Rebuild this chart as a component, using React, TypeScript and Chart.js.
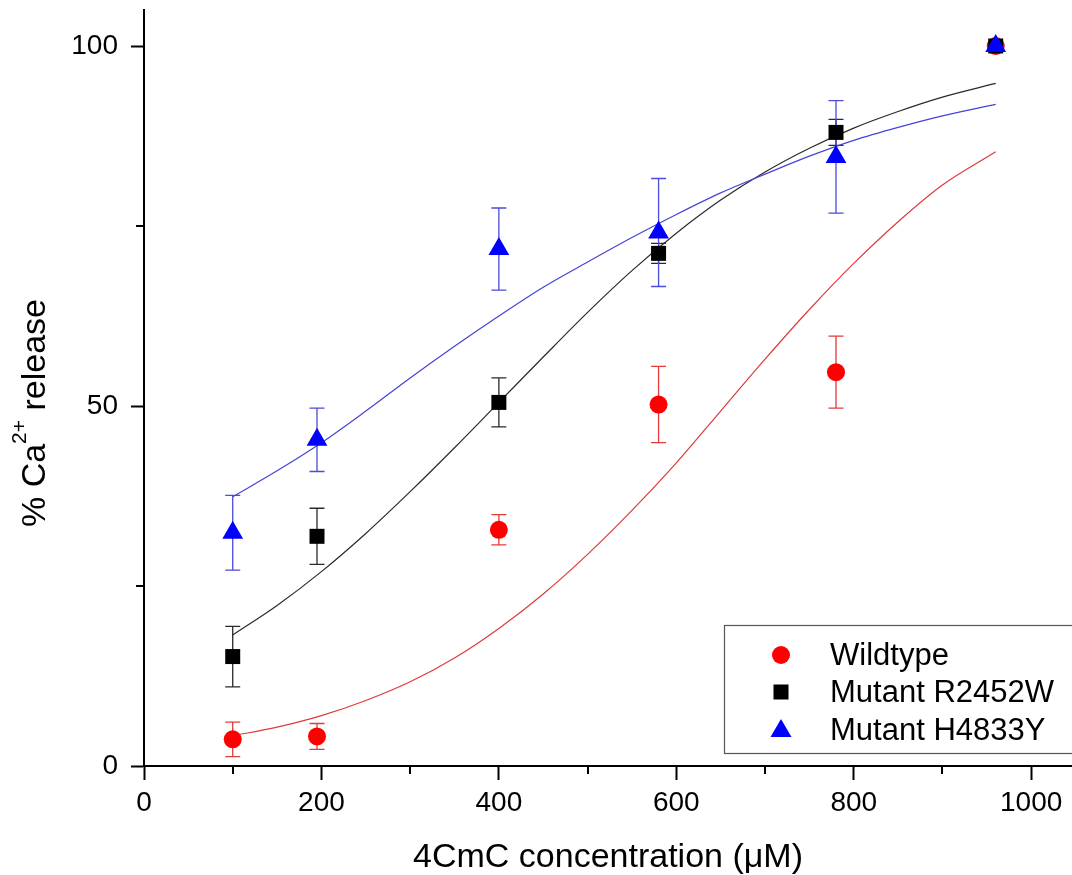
import React, { useEffect, useRef } from "react";
import { Chart, registerables } from "chart.js";
Chart.register(...registerables);

// Measured data (x: 4CmC concentration in µM, y: % Ca2+ release)
const concentrations = [100, 195, 400, 580, 780, 960];
const wildtype = [3.7, 4.1, 32.8, 50.2, 54.7, 100];
const wildtypeErr = [2.4, 1.8, 2.1, 5.3, 5.0, 0];
const r2452w = [15.2, 31.9, 50.5, 71.2, 88.0, 100];
const r2452wErr = [4.2, 3.9, 3.4, 1.4, 1.8, 0];
const h4833y = [32.4, 45.3, 71.8, 74.1, 84.6, 100];
const h4833yErr = [5.2, 4.4, 5.7, 7.5, 7.8, 0];

// Fitted curves
const fitX = [100, 150, 200, 250, 300, 350, 400, 450, 500, 550, 600, 650, 700, 750, 800, 850, 900, 960];
const wildtypeFit = [4.2, 5.4, 7.0, 9.1, 11.7, 15.0, 19.1, 23.9, 29.4, 35.5, 42.1, 49.3, 56.5, 63.4, 69.8, 75.6, 80.7, 85.3];
const r2452wFit = [18.2, 22.3, 27.0, 32.3, 38.1, 44.2, 50.5, 56.8, 63.0, 68.8, 74.0, 78.6, 82.5, 85.8, 88.6, 90.9, 92.9, 94.8];
const h4833yFit = [37.4, 41.0, 44.9, 49.3, 53.9, 58.3, 62.5, 66.5, 70.0, 73.4, 76.6, 79.6, 82.2, 84.7, 86.9, 88.7, 90.3, 91.9];

const seriesNames = ["Wildtype", "Mutant R2452W", "Mutant H4833Y"];
const xTicks = [0, 200, 400, 600, 800, 1000];
const xMinorTicks = [100, 300, 500, 700, 900];
const yTicks = [0, 50, 100];
const yMinorTicks = [25, 75];

const FONT = "'Liberation Sans', Arial, sans-serif";

const pts = (xs: number[], ys: number[]) => xs.map((x, i) => ({ x, y: ys[i] }));

const zeroPad = (s: any) => {
  s.paddingTop = 0;
  s.paddingBottom = 0;
  s.paddingLeft = 0;
  s.paddingRight = 0;
};

export default function App() {
  const ref = useRef<HTMLCanvasElement | null>(null);
  useEffect(() => {
    document.body.style.margin = "0";
    const canvas = ref.current;
    if (!canvas) return;

    const errGroups: [number[], number[], string][] = [
      [wildtype, wildtypeErr, "#e23b3b"],
      [r2452w, r2452wErr, "#2a2a2a"],
      [h4833y, h4833yErr, "#4b4bdc"],
    ];

    const plugin = {
      id: "custom",
      beforeDatasetsDraw(chart: any) {
        const ctx = chart.ctx;
        const xs = chart.scales.x;
        const ys = chart.scales.y;
        ctx.save();
        ctx.lineWidth = 1.3;
        errGroups.forEach(([vals, errs, color]) => {
          ctx.strokeStyle = color;
          vals.forEach((v, i) => {
            const e = errs[i];
            if (!e) return;
            const px = xs.getPixelForValue(concentrations[i]);
            const pt = ys.getPixelForValue(v + e);
            const pb = ys.getPixelForValue(v - e);
            ctx.beginPath();
            ctx.moveTo(px, pt);
            ctx.lineTo(px, pb);
            ctx.moveTo(px - 7.5, pt);
            ctx.lineTo(px + 7.5, pt);
            ctx.moveTo(px - 7.5, pb);
            ctx.lineTo(px + 7.5, pb);
            ctx.stroke();
          });
        });
        ctx.restore();
      },
      afterDraw(chart: any) {
        const ctx = chart.ctx;
        const xs = chart.scales.x;
        const ys = chart.scales.y;
        const area = chart.chartArea;
        ctx.save();
        // minor ticks
        ctx.strokeStyle = "#000";
        ctx.lineWidth = 2;
        ctx.beginPath();
        xMinorTicks.forEach((v) => {
          const px = Math.round(xs.getPixelForValue(v));
          ctx.moveTo(px, area.bottom);
          ctx.lineTo(px, area.bottom + 8);
        });
        yMinorTicks.forEach((v) => {
          const py = Math.round(ys.getPixelForValue(v));
          ctx.moveTo(area.left, py);
          ctx.lineTo(area.left - 8, py);
        });
        ctx.stroke();

        // x title
        ctx.fillStyle = "#000";
        ctx.font = `34px ${FONT}`;
        ctx.textAlign = "center";
        ctx.textBaseline = "alphabetic";
        ctx.fillText("4CmC concentration (\u03bcM)", (area.left + area.right) / 2, 867);

        // y title with superscript
        ctx.save();
        ctx.translate(45, 413);
        ctx.rotate(-Math.PI / 2);
        const p1 = "% Ca";
        const sup = "2+";
        const p2 = " release";
        ctx.font = `34px ${FONT}`;
        const w1 = ctx.measureText(p1).width;
        const w3 = ctx.measureText(p2).width;
        ctx.font = `21px ${FONT}`;
        const w2 = ctx.measureText(sup).width;
        const total = w1 + w2 + w3;
        let x0 = -total / 2;
        ctx.textAlign = "left";
        ctx.font = `34px ${FONT}`;
        ctx.fillText(p1, x0, 0);
        x0 += w1;
        ctx.font = `21px ${FONT}`;
        ctx.fillText(sup, x0, -19);
        x0 += w2;
        ctx.font = `34px ${FONT}`;
        ctx.fillText(p2, x0, 0);
        ctx.restore();

        // legend
        ctx.strokeStyle = "#555";
        ctx.lineWidth = 1.2;
        ctx.strokeRect(724.5, 625.5, 400, 128);
        const rows = [655, 692, 730];
        const lx = 781;
        ctx.fillStyle = "#ff0000";
        ctx.beginPath();
        ctx.arc(lx, rows[0], 9, 0, Math.PI * 2);
        ctx.fill();
        ctx.fillStyle = "#000";
        ctx.fillRect(lx - 7.5, rows[1] - 7.5, 15, 15);
        ctx.fillStyle = "#0000ff";
        ctx.beginPath();
        ctx.moveTo(lx, rows[2] - 11);
        ctx.lineTo(lx + 10.5, rows[2] + 7);
        ctx.lineTo(lx - 10.5, rows[2] + 7);
        ctx.closePath();
        ctx.fill();
        ctx.fillStyle = "#000";
        ctx.font = `31px ${FONT}`;
        ctx.textAlign = "left";
        ctx.textBaseline = "middle";
        seriesNames.forEach((n, i) => ctx.fillText(n, 830, rows[i] + 1));
        ctx.restore();
      },
    };

    const chart = new Chart(canvas, {
      type: "scatter",
      data: {
        datasets: [
          {
            label: seriesNames[2],
            data: pts(concentrations, h4833y),
            pointStyle: "triangle",
            pointRadius: 12,
            backgroundColor: "#0000ff",
            borderColor: "#0000ff",
            borderWidth: 0,
            order: 0,
          },
          {
            label: seriesNames[1],
            data: pts(concentrations, r2452w),
            pointStyle: "rect",
            pointRadius: 10.6,
            backgroundColor: "#000000",
            borderColor: "#000000",
            borderWidth: 0,
            order: 1,
          },
          {
            label: seriesNames[0],
            data: pts(concentrations, wildtype),
            pointStyle: "circle",
            pointRadius: 9,
            backgroundColor: "#ff0000",
            borderColor: "#ff0000",
            borderWidth: 0,
            order: 2,
          },
          {
            label: "fit-wt",
            data: pts(fitX, wildtypeFit),
            showLine: true,
            pointRadius: 0,
            borderColor: "#e03a3a",
            borderWidth: 1.2,
            cubicInterpolationMode: "monotone",
            order: 5,
          },
          {
            label: "fit-r",
            data: pts(fitX, r2452wFit),
            showLine: true,
            pointRadius: 0,
            borderColor: "#2a2a2a",
            borderWidth: 1.2,
            cubicInterpolationMode: "monotone",
            order: 4,
          },
          {
            label: "fit-h",
            data: pts(fitX, h4833yFit),
            showLine: true,
            pointRadius: 0,
            borderColor: "#4444d8",
            borderWidth: 1.2,
            cubicInterpolationMode: "monotone",
            order: 3,
          },
        ] as any,
      },
      options: {
        animation: false,
        responsive: false,
        devicePixelRatio: 1,
        layout: { autoPadding: false, padding: { top: 10, left: 0, right: 0, bottom: 0 } },
        plugins: { legend: { display: false }, tooltip: { enabled: false } },
        scales: {
          x: {
            type: "linear",
            min: 0,
            max: 1046,
            afterBuildTicks: (s: any) => {
              s.ticks = xTicks.map((v) => ({ value: v }));
            },
            afterFit: (s: any) => {
              s.height = 109;
              zeroPad(s);
            },
            ticks: {
              color: "#000",
              font: { family: FONT, size: 28 },
              padding: 6,
              maxRotation: 0,
              callback: (v: any) => String(v),
            },
            grid: {
              display: true,
              drawOnChartArea: false,
              drawTicks: true,
              tickLength: 14,
              tickWidth: 2,
              tickColor: "#000",
            },
            border: { display: true, color: "#000", width: 2 },
          },
          y: {
            type: "linear",
            min: 0,
            max: 105,
            afterBuildTicks: (s: any) => {
              s.ticks = yTicks.map((v) => ({ value: v }));
            },
            afterFit: (s: any) => {
              s.width = 144;
              zeroPad(s);
            },
            ticks: {
              color: "#000",
              font: { family: FONT, size: 28 },
              padding: 13,
              callback: (v: any) => String(v),
            },
            grid: {
              display: true,
              drawOnChartArea: false,
              drawTicks: true,
              tickLength: 13,
              tickWidth: 2,
              tickColor: "#000",
            },
            border: { display: true, color: "#000", width: 2 },
          },
        },
      },
      plugins: [plugin],
    } as any);
    return () => chart.destroy();
  }, []);

  return (
    <div style={{ position: "relative", width: 1072, height: 875, background: "#fff" }}>
      <canvas ref={ref} width={1072} height={875} style={{ display: "block" }} />
    </div>
  );
}
